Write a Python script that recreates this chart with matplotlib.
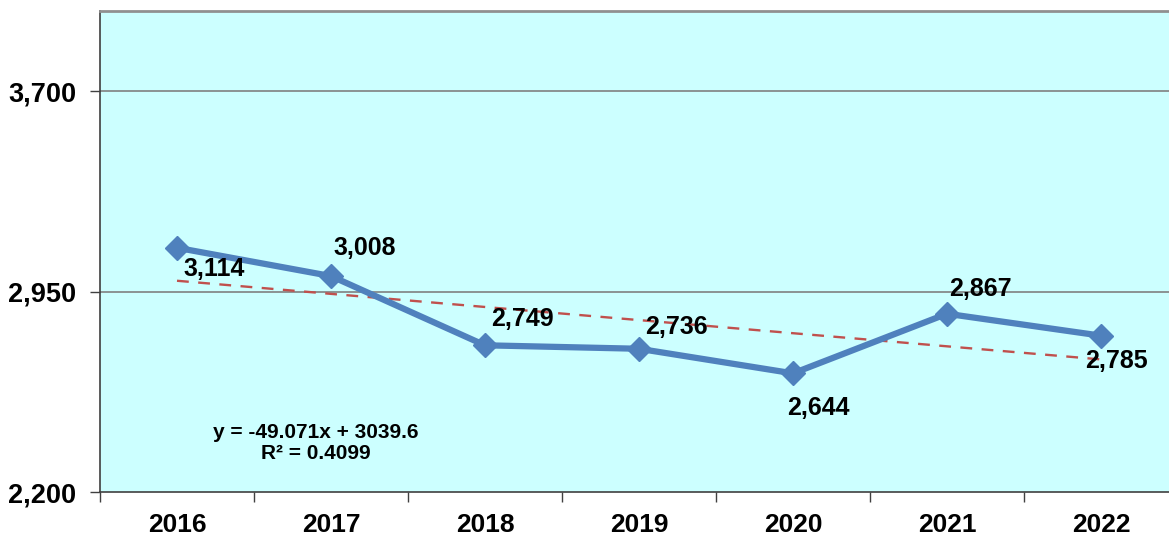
import matplotlib
matplotlib.use("Agg")
import matplotlib.pyplot as plt
import numpy as np

years = ["2016", "2017", "2018", "2019", "2020", "2021", "2022"]
values = [3114, 3008, 2749, 2736, 2644, 2867, 2785]
value_labels = ["3,114", "3,008", "2,749", "2,736", "2,644", "2,867", "2,785"]
yticks = [2200, 2950, 3700]
ytick_labels = ["2,200", "2,950", "3,700"]
trend_slope = -49.071
trend_intercept = 3039.6
trend_text = "y = -49.071x + 3039.6\nR² = 0.4099"
# label offsets in pixels (dx, dy), dy positive = up
label_offsets = [(37, -21), (34, 28), (37, 26), (37, 22), (25, -35), (33, 25), (15, -25)]

plt.rcParams['font.family'] = ['Liberation Sans', 'DejaVu Sans']

fig = plt.figure(figsize=(11.69, 5.42), dpi=100)
ax = fig.add_axes([100/1169, 50/542, 1078/1169, 481/542])
ax.set_facecolor('#CCFFFF')

x = np.arange(1, len(years) + 1)
ax.set_xlim(0.5, len(years) + 0.5)
ax.set_ylim(2200, 4000)

for yt in yticks[1:]:
    ax.axhline(yt, color='#808080', lw=1.2, zorder=1)

trend = trend_slope * x + trend_intercept
ax.plot(x, trend, color='#C0504D', lw=1.7, ls=(0, (5, 4)), zorder=2)

ax.plot(x, values, color='#4F81BD', lw=4.5, marker='D', markersize=12.5,
        markerfacecolor='#4F81BD', markeredgecolor='#4F81BD', zorder=3)

for xi, v, lab, (dx, dy) in zip(x, values, value_labels, label_offsets):
    ax.annotate(lab, (xi, v), xytext=(dx*0.72, dy*0.72), textcoords='offset points',
                ha='center', va='center', fontsize=18, fontweight='bold', color='black', zorder=4)

ax.text(316/1169, (542-443)/542, trend_text, transform=fig.transFigure, ha='center', va='center',
        fontsize=15, fontweight='bold', linespacing=1.1)

ax.set_yticks(yticks)
ax.set_yticklabels(ytick_labels, fontsize=19.5, fontweight='bold')
ax.set_xticks(x)
ax.set_xticklabels(years, fontsize=19, fontweight='bold')
ax.set_xticks(np.arange(0.5, len(years) + 1.0, 1.0), minor=True)
ax.tick_params(axis='x', which='major', length=0, pad=15)
ax.tick_params(axis='x', which='minor', length=7, width=1, color='#404040', direction='out')
ax.tick_params(axis='y', which='major', length=7, width=1, color='#404040', direction='out', pad=10)

for s in ['left', 'bottom']:
    ax.spines[s].set_color('#404040')
    ax.spines[s].set_linewidth(1.2)
ax.spines['top'].set_color('#909090')
ax.spines['top'].set_linewidth(2)
ax.spines['right'].set_visible(False)

fig.savefig('out.png', dpi=100, facecolor='white')
